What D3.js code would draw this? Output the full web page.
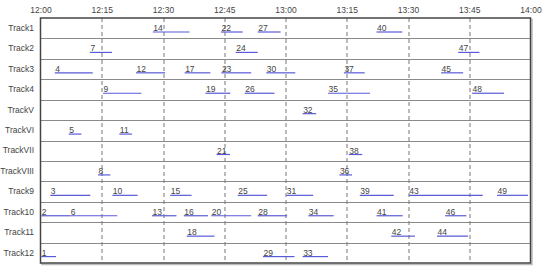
<!DOCTYPE html>
<html lang="en">
<head>
<meta charset="UTF-8">
<title>Track timeline</title>
<script src="https://d3js.org/d3.v7.min.js"></script>
<style>
body { margin: 0; background: #fff; }
svg text { font-family: "Liberation Sans", Arial, sans-serif; }
</style>
</head>
<body>
<div id="chart"></div>
<script>
// tracks (rows, top to bottom)
var tracks = ["Track1", "Track2", "Track3", "Track4", "TrackV", "TrackVI",
  "TrackVII", "TrackVIII", "Track9", "Track10", "Track11", "Track12"];

// time ticks, minutes after 12:00
var tickMinutes = [0, 15, 30, 45, 60, 75, 90, 105, 120];
var tickLabels = ["12:00", "12:15", "12:30", "12:45", "13:00", "13:15", "13:30", "13:45", "14:00"];

// segments: id, track, start / end in minutes after 12:00
var segIds    = [14, 22, 27, 40,   7, 24, 47,   4, 12, 17, 23, 30, 37, 45,   9, 19, 26, 35, 48,   32,   5, 11,   21, 38,   8, 36,
                 3, 10, 15, 25, 31, 39, 43, 49,   2, 6, 13, 16, 20, 28, 34, 41, 46,   18, 42, 44,   1, 29, 33];
var segTracks = ["Track1", "Track1", "Track1", "Track1",
  "Track2", "Track2", "Track2",
  "Track3", "Track3", "Track3", "Track3", "Track3", "Track3", "Track3",
  "Track4", "Track4", "Track4", "Track4", "Track4",
  "TrackV",
  "TrackVI", "TrackVI",
  "TrackVII", "TrackVII",
  "TrackVIII", "TrackVIII",
  "Track9", "Track9", "Track9", "Track9", "Track9", "Track9", "Track9", "Track9",
  "Track10", "Track10", "Track10", "Track10", "Track10", "Track10", "Track10", "Track10", "Track10",
  "Track11", "Track11", "Track11",
  "Track12", "Track12", "Track12"];
var segStart  = [27.5, 44.2, 53.2, 82.3,   12.1, 47.8, 102.3,   3.5, 23.4, 35.3, 44.3, 55.3, 74.3, 98.1,   15.3, 40.4, 50, 70.4, 105.7,   64.2,   6.9, 19.3,   43.1, 75.5,   14.1, 73.2,
                 2.4, 17.6, 31.8, 48.3, 60.2, 78.2, 90.2, 111.8,   0.2, 7.3, 27.3, 35.1, 41.8, 53.2, 65.6, 82.3, 99.1,   35.8, 85.9, 97.1,   0.2, 54.5, 64.2];
var segEnd    = [36.5, 49.5, 58.8, 88.6,   17.5, 53.2, 107.5,   12.8, 30.5, 41.6, 51.6, 62.4, 79.4, 103.5,   24.7, 46.5, 57.3, 80.7, 113.5,   67.5,   10, 22.4,   46.4, 78.8,   17.1, 76.3,
                 12.2, 23.8, 37, 55.5, 66.8, 86.5, 108.3, 119.4,   7.3, 18.8, 33.3, 41, 51.6, 60.4, 71.8, 88.7, 104.3,   42.6, 91.7, 104.7,   3.8, 62.2, 70.4];

var segments = segIds.map(function (id, i) {
  return { id: id, track: segTracks[i], start: segStart[i], end: segEnd[i] };
});

var width = 550, height = 272;
var margin = { top: 18, right: 19.5, bottom: 9, left: 40.5 };
var w = width - margin.left - margin.right,
  h = height - margin.top - margin.bottom;

var svg = d3.select("#chart").append("svg")
  .attr("width", width)
  .attr("height", height);

var g = svg.append("g")
  .attr("transform", "translate(" + margin.left + "," + margin.top + ")");

var x = d3.scaleLinear().domain([0, 120]).range([0, w]);
var y = d3.scaleBand().domain(tracks).range([0, h]);

// shadow of the frame
g.append("rect")
  .attr("x", 1.5).attr("y", 1.5)
  .attr("width", w).attr("height", h)
  .attr("fill", "none")
  .attr("stroke", "#bbb")
  .attr("stroke-width", 1.5);

g.append("rect")
  .attr("width", w).attr("height", h)
  .attr("fill", "#fff");

// row separators
g.selectAll("line.row")
  .data(tracks.slice(1))
  .enter().append("line")
  .attr("class", "row")
  .attr("x1", 0).attr("x2", w)
  .attr("y1", function (d) { return Math.round(y(d)) + 0.5; })
  .attr("y2", function (d) { return Math.round(y(d)) + 0.5; })
  .attr("stroke", "#8a8a8a")
  .attr("stroke-width", 1);

// dashed time grid
g.selectAll("line.grid")
  .data(tickMinutes.slice(1, -1))
  .enter().append("line")
  .attr("class", "grid")
  .attr("x1", function (d) { return Math.round(x(d)) + 0.5; })
  .attr("x2", function (d) { return Math.round(x(d)) + 0.5; })
  .attr("y1", 0).attr("y2", h)
  .attr("stroke", "#777")
  .attr("stroke-dasharray", "4,3");

// top time axis
var xAxis = d3.axisTop(x)
  .tickValues(tickMinutes)
  .tickFormat(function (d, i) { return tickLabels[i]; })
  .tickSize(0)
  .tickPadding(5);

var ax = g.append("g").call(xAxis);
ax.select(".domain").remove();
ax.selectAll("text").attr("font-size", 8.5).attr("fill", "#444");

// track labels
var yAxis = d3.axisLeft(y).tickSize(0).tickPadding(6.5);
var ay = g.append("g").call(yAxis);
ay.select(".domain").remove();
ay.selectAll("text").attr("font-size", 8.5).attr("fill", "#444");

// segments
var seg = g.selectAll("g.seg")
  .data(segments)
  .enter().append("g")
  .attr("class", "seg");

seg.append("line")
  .attr("x1", function (d) { return x(d.start); })
  .attr("x2", function (d) { return x(d.end); })
  .attr("y1", function (d) { return y(d.track) + 14; })
  .attr("y2", function (d) { return y(d.track) + 14; })
  .attr("stroke", "#5a5ad8")
  .attr("stroke-width", 1.2);

seg.append("text")
  .attr("x", function (d) { return x(d.start) + 0.5; })
  .attr("y", function (d) { return y(d.track) + 13; })
  .attr("font-size", 8.5)
  .attr("fill", "#444")
  .text(function (d) { return d.id; });

// frame
g.append("rect")
  .attr("width", w).attr("height", h)
  .attr("fill", "none")
  .attr("stroke", "#444")
  .attr("stroke-width", 1.5);
</script>
</body>
</html>
